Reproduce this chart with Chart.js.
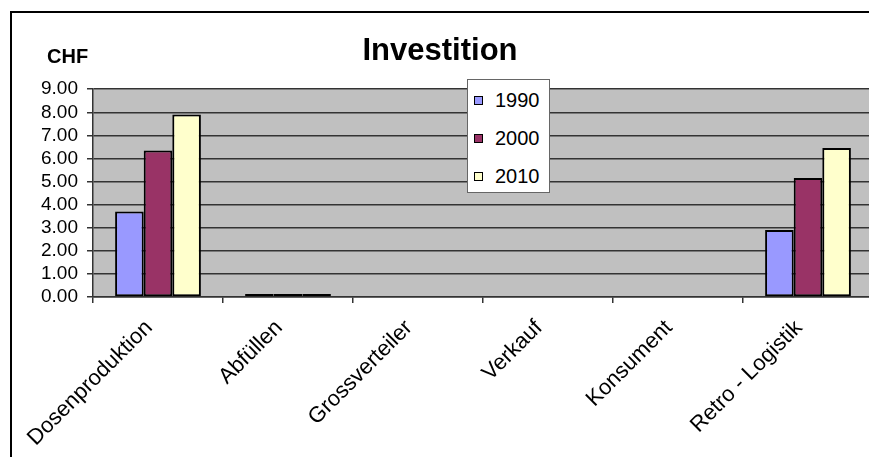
<!DOCTYPE html>
<html>
<head>
<meta charset="utf-8">
<script src="https://cdn.jsdelivr.net/npm/chart.js@4.4.1/dist/chart.umd.min.js"></script>
<style>
    html, body { margin: 0; padding: 0; overflow: hidden; background: #fff; }
    #wrap { position: absolute; left: 0; top: 0; width: 873px; height: 457px; }
    #legend-container {
        position: absolute; left: 467px; top: 79px; width: 81px; height: 112px;
        background: #fff; border: 1px solid #666;
        font-family: 'Liberation Sans', Arial, sans-serif; font-size: 20px; color: #000;
    }
    .legend-item { position: absolute; left: 0; height: 24px; line-height: 24px; }
    .legend-color { position: absolute; left: 6px; top: 8px; width: 7px; height: 7px; border: 1px solid #000; }
    .legend-label { position: absolute; left: 27px; top: 0; }
</style>
</head>
<body>
<div id="wrap">
    <canvas id="investitionChart" width="873" height="457"></canvas>
    <div id="legend-container"></div>
</div>
<script>
const categories = ['Dosenproduktion', 'Abfüllen', 'Grossverteiler', 'Verkauf', 'Konsument', 'Retro - Logistik'];
const seriesNames = ['1990', '2000', '2010'];
const values1990 = [3.7, 0.13, 0, 0, 0, 2.9];
const values2000 = [6.35, 0.13, 0, 0, 0, 5.15];
const values2010 = [7.9, 0.13, 0, 0, 0, 6.45];
const yMax = 9;
const yStep = 1;

const fontFamily = "'Liberation Sans', Arial, sans-serif";

// frame, unit label
const frameAndUnit = {
    id: 'frameAndUnit',
    afterDraw(chart) {
        const ctx = chart.ctx;
        ctx.save();
        ctx.strokeStyle = '#000';
        ctx.lineWidth = 2;
        ctx.beginPath();
        ctx.moveTo(11, chart.height);
        ctx.lineTo(11, 12);
        ctx.lineTo(chart.width, 12);
        ctx.stroke();

        ctx.fillStyle = '#000';
        ctx.font = 'bold 20px ' + fontFamily;
        ctx.textAlign = 'left';
        ctx.textBaseline = 'middle';
        ctx.fillText('CHF', 47, 57);
        ctx.restore();
    }
};

const ctx = document.getElementById('investitionChart').getContext('2d');
const investitionChart = new Chart(ctx, {
    type: 'bar',
    data: {
        labels: categories,
        datasets: [{
            label: seriesNames[0],
            data: values1990,
            backgroundColor: '#9999FF',
        }, {
            label: seriesNames[1],
            data: values2000,
            backgroundColor: '#993366',
        }, {
            label: seriesNames[2],
            data: values2010,
            backgroundColor: '#FFFFCC',
        }]
    },
    options: {
        responsive: false,
        animation: false,
        layout: { padding: { left: 7, right: 0, top: 0, bottom: 0 } },
        datasets: {
            bar: {
                borderColor: '#000',
                borderWidth: 2,
                borderSkipped: false,
                categoryPercentage: 0.66,
                barPercentage: 1.0
            }
        },
        scales: {
            x: {
                grid: {
                    offset: true,
                    drawOnChartArea: false,
                    drawTicks: true,
                    tickLength: 6,
                    color: '#333',
                    lineWidth: 1.5
                },
                border: { display: true, color: '#333', width: 1.5 },
                ticks: {
                    color: '#000',
                    font: { family: fontFamily, size: 22 },
                    minRotation: 45,
                    maxRotation: 45,
                    autoSkip: false,
                    padding: 12,
                    labelOffset: -9
                },
                afterFit(scale) { scale.height = 160; }
            },
            y: {
                min: 0,
                max: yMax,
                grid: {
                    color: '#333',
                    lineWidth: 1.5,
                    tickLength: 6
                },
                border: { display: true, color: '#333', width: 1.5 },
                ticks: {
                    stepSize: yStep,
                    autoSkip: false,
                    color: '#000',
                    font: { family: fontFamily, size: 19 },
                    padding: 9,
                    callback: (v) => Number(v).toFixed(2)
                },
                afterFit(scale) { scale.width = 86; }
            }
        },
        plugins: {
            legend: { display: false },
            tooltip: { enabled: false },
            title: {
                display: true,
                text: 'Investition',
                color: '#000',
                font: { family: fontFamily, size: 31, weight: 'bold', lineHeight: 1.2 },
                padding: { top: 33, bottom: 19 }
            }
        }
    },
    plugins: [frameAndUnit, {
        id: 'plotBackground',
        beforeDraw(chart) {
            const a = chart.chartArea;
            chart.ctx.save();
            chart.ctx.fillStyle = '#C0C0C0';
            chart.ctx.fillRect(a.left, a.top, a.right - a.left, a.bottom - a.top);
            chart.ctx.restore();
        }
    }]
});

function generateCustomLegend(chart) {
    const legendContainer = document.getElementById('legend-container');
    legendContainer.innerHTML = chart.data.datasets.map((dataset, index) => {
        return `
            <div class="legend-item" style="top: ${8 + index * 38}px;">
                <span class="legend-color" style="background-color: ${dataset.backgroundColor};"></span>
                <span class="legend-label">${dataset.label}</span>
            </div>
        `;
    }).join('');
}

generateCustomLegend(investitionChart);
</script>
</body>
</html>
